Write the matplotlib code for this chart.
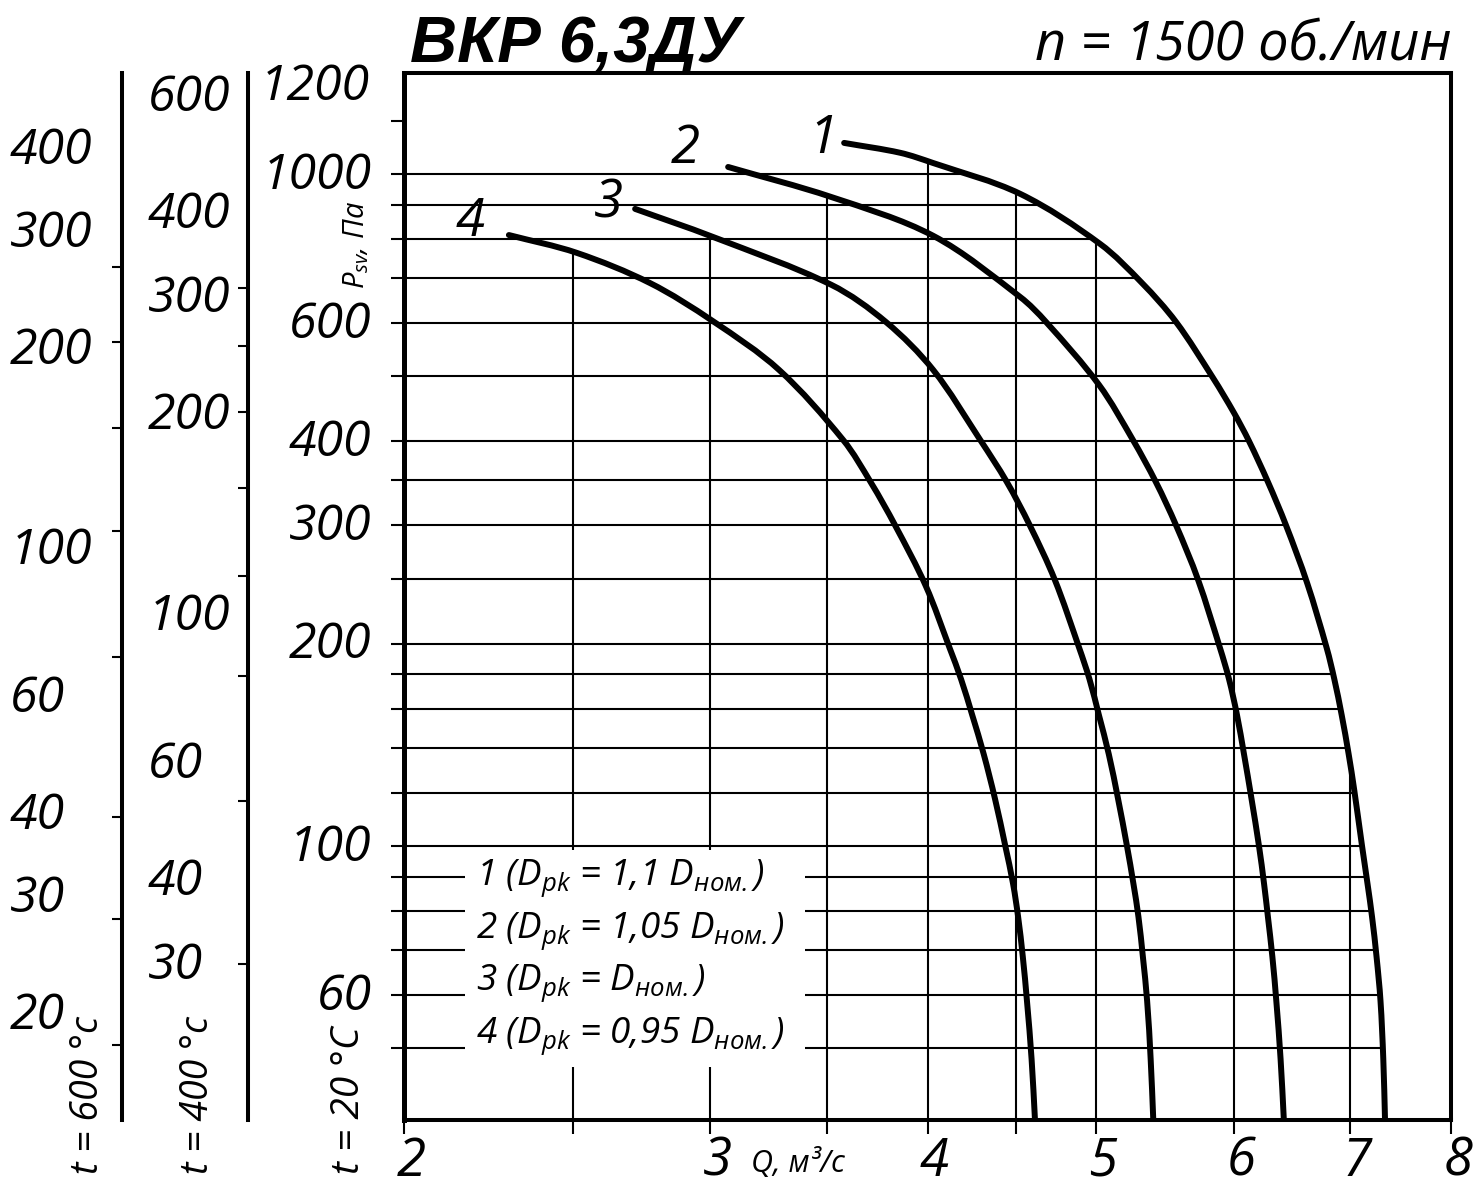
import numpy as np
import matplotlib
matplotlib.use("Agg")
import matplotlib.pyplot as plt
from matplotlib.ticker import FixedLocator, FixedFormatter, NullFormatter, NullLocator
from matplotlib.patches import Rectangle, PathPatch
from matplotlib.path import Path
from matplotlib.transforms import ScaledTranslation

# ---------------- data ----------------
q1 = [3.582, 3.858, 4.030, 4.522, 5.026, 5.314, 5.559, 5.838, 6.002, 6.122, 6.278, 6.430,
      6.613, 6.786, 6.855, 6.922, 6.986, 7.038, 7.111, 7.163, 7.206, 7.249, 7.287, 7.314, 7.331]
p1 = [1112, 1075, 1038, 934, 787, 688, 602, 497, 441, 400.5, 348, 300,
      246, 197, 177, 156.6, 137, 121.1, 100, 87.8, 78.4, 68.4, 58.8, 48.2, 39]

q2 = [3.072, 3.521, 4.030, 4.522, 4.680, 5.020, 5.250, 5.412, 5.559, 5.723, 5.892, 5.963,
      6.026, 6.082, 6.143, 6.204, 6.246, 6.278, 6.315, 6.348, 6.384, 6.412]
p2 = [1024, 924, 809, 656, 602, 485.3, 402, 348, 300, 249, 197, 177,
      156.6, 137, 117.5, 100, 87.8, 78.4, 68.4, 58.8, 48.2, 39]

q3 = [2.716, 3.010, 3.521, 3.786, 4.030, 4.289, 4.443, 4.580, 4.734, 4.890, 4.957, 5.019,
      5.085, 5.148, 5.209, 5.254, 5.289, 5.320, 5.350, 5.375, 5.394]
p3 = [887, 806, 684, 602, 511, 402, 348, 300, 249, 197, 177, 156.6,
      137, 117.5, 100, 87.8, 78.4, 68.4, 58.8, 48.2, 39]

q4 = [2.298, 2.514, 2.770, 3.010, 3.286, 3.577, 3.712, 3.832, 3.991, 4.119, 4.182, 4.244,
      4.309, 4.374, 4.434, 4.480, 4.510, 4.538, 4.563, 4.591, 4.612]
p4 = [811, 763, 688, 604, 511, 402, 347, 300, 243.7, 197, 177, 156.6,
      137, 117.5, 100, 87.8, 78.4, 68.4, 58.8, 48.2, 39]

curve_names = ["1", "2", "3", "4"]
legend_lines = [
    "1 (D$_{pk}$ = 1,1 D$_{ном.}$)",
    "2 (D$_{pk}$ = 1,05 D$_{ном.}$)",
    "3 (D$_{pk}$ = D$_{ном.}$)",
    "4 (D$_{pk}$ = 0,95 D$_{ном.}$)",
]

x_ticks = [2, 2.5, 3, 3.5, 4, 4.5, 5, 6, 7, 8]
x_grid = [2.5, 3, 3.5, 4, 4.5, 5, 6, 7]
y_grid = [1000, 900, 800, 700, 600, 500, 400, 350, 300, 250, 200, 180, 160, 140, 120,
          100, 90, 80, 70, 60, 50]
y_ticks = [1200] + y_grid
y_labeled = [1000, 600, 400, 300, 200, 100, 60]

t600_labels = [400, 300, 200, 100, 60, 40, 30, 20]
t600_marks = [262, 202, 150, 105, 68, 39, 27.4, 17.7]
t400_labels = [600, 400, 300, 200, 100, 60, 40, 30]
t400_marks = [305, 250, 199, 153, 113, 80, 52, 29.6]

# ---------------- style ----------------
FONT = ['Open Sans', 'DejaVu Sans']
plt.rcParams['font.family'] = FONT
plt.rcParams['font.style'] = 'italic'
plt.rcParams['mathtext.fontset'] = 'custom'
plt.rcParams['mathtext.rm'] = 'Open Sans:italic'
plt.rcParams['mathtext.it'] = 'Open Sans:italic'
plt.rcParams['mathtext.default'] = 'it'

W, H = 1483, 1189
fig = plt.figure(figsize=(W / 100, H / 100), dpi=100)
L, R, T, B = 404, 1451, 73, 1120


def box(l, r):
    return [l / W, 1 - B / H, (r - l) / W, (B - T) / H]


def px_shift(dx, dy):
    return ScaledTranslation(dx / 100, dy / 100, fig.dpi_scale_trans)


ax = fig.add_axes(box(L, R))
ax.set_xscale('log')
ax.set_yscale('log')
ax.set_xlim(2, 8)
ax.set_ylim(39.1, 1413)

ax.xaxis.set_major_locator(FixedLocator(x_ticks))
ax.xaxis.set_major_formatter(FixedFormatter([('%d' % v) if v == int(v) else '' for v in x_ticks]))
ax.xaxis.set_minor_locator(NullLocator())
ax.yaxis.set_major_locator(FixedLocator(y_ticks))
ax.yaxis.set_major_formatter(FixedFormatter([str(v) if v in y_labeled else '' for v in y_ticks]))
ax.yaxis.set_minor_locator(NullLocator())
ax.tick_params(axis='x', length=10, width=1.5, pad=1, labelsize=38, direction='out')
ax.tick_params(axis='y', length=9.4, width=1.5, pad=14, labelsize=36, direction='out')
for s in ['top', 'right', 'bottom']:
    ax.spines[s].set_linewidth(2.9)
ax.spines['left'].set_linewidth(3.6)
for lbl in ax.get_xticklabels():
    lbl.set_transform(lbl.get_transform() + px_shift(7, 0))
for lbl in ax.get_yticklabels():
    lbl.set_transform(lbl.get_transform() + px_shift(0, 4))

curves = [(np.array(q1), np.array(p1)), (np.array(q2), np.array(p2)),
          (np.array(q3), np.array(p3)), (np.array(q4), np.array(p4))]

ymin = ax.get_ylim()[0]
# horizontal grid lines: from the left edge to the outer curve
lq1, lp1 = np.log(curves[0][0]), np.log(curves[0][1])
for P in y_grid:
    if P > curves[0][1].max():
        continue
    qend = np.exp(np.interp(np.log(P), lp1[::-1], lq1[::-1]))
    ax.plot([2, qend], [P, P], color='black', lw=1.5, zorder=1, solid_capstyle='butt')
# vertical grid lines: from the bottom up to the highest curve
for Q in x_grid:
    tops = [np.exp(np.interp(np.log(Q), np.log(q), np.log(p)))
            for q, p in curves if q[0] <= Q <= q[-1]]
    top = max(tops) if tops else ax.get_ylim()[1]
    ax.plot([Q, Q], [ymin, top], color='black', lw=1.5, zorder=1, solid_capstyle='butt')

# white panel behind the legend text
ax.add_patch(Rectangle((0.0583, 0.0506), 0.325, 0.207, transform=ax.transAxes,
                       facecolor='white', edgecolor='none', zorder=2))


def smooth_path(q, p, sx=1739.0, sy=672.0):
    """Smooth Bezier path through the read points (chord-length tangents, log space)."""
    pts = np.column_stack([np.log10(q) * sx, np.log10(p) * sy])
    n = len(pts)
    d = np.linalg.norm(np.diff(pts, axis=0), axis=1)
    tang = np.zeros_like(pts)
    tang[0] = (pts[1] - pts[0]) / d[0]
    tang[-1] = (pts[-1] - pts[-2]) / d[-1]
    for i in range(1, n - 1):
        tang[i] = (pts[i + 1] - pts[i - 1]) / (d[i - 1] + d[i])
    verts = [pts[0]]
    codes = [Path.MOVETO]
    for i in range(n - 1):
        verts += [pts[i] + tang[i] * d[i] / 3, pts[i + 1] - tang[i + 1] * d[i] / 3, pts[i + 1]]
        codes += [Path.CURVE4] * 3
    verts = np.array(verts) / np.array([sx, sy])
    return Path(10 ** verts, codes)


label_offsets = [(-15, -7), (-31, 3), (-19, -6), (-28, -0.7)]
for (q, p), name, off in zip(curves, curve_names, label_offsets):
    ax.add_patch(PathPatch(smooth_path(q, p), facecolor='none', edgecolor='black',
                           lw=4.3, capstyle='round', joinstyle='round', zorder=3))
    ax.annotate(name, xy=(q[0], p[0]), xytext=off, textcoords='offset points',
                ha='center', va='baseline', fontsize=38)

# legend text
for s, yb in zip(legend_lines, [885, 938, 990, 1043]):
    fig.text(476 / W, 1 - yb / H, s, fontsize=26.5, ha='left', va='baseline')


# secondary temperature scales
def temp_axis(xpx, ylim, labels, marks, left_px):
    a = fig.add_axes(box(xpx, xpx + 0.2))
    a.set_yscale('log')
    a.set_ylim(*ylim)
    for s in ['top', 'right', 'bottom']:
        a.spines[s].set_visible(False)
    a.spines['left'].set_linewidth(2.9)
    a.patch.set_visible(False)
    a.xaxis.set_visible(False)
    a.yaxis.set_major_locator(FixedLocator(labels))
    a.yaxis.set_major_formatter(FixedFormatter([str(v) for v in labels]))
    a.yaxis.set_minor_locator(FixedLocator(marks))
    a.yaxis.set_minor_formatter(NullFormatter())
    a.tick_params(axis='y', which='major', length=0, pad=(xpx - left_px) * 0.72, labelsize=36)
    a.tick_params(axis='y', which='minor', length=7, width=1.5, direction='out')
    for lbl in a.get_yticklabels():
        lbl.set_horizontalalignment('left')
    return a


temp_axis(122, (13.67, 513), t600_labels, t600_marks, 10)
temp_axis(248, (17.26, 641), t400_labels, t400_marks, 148)

# texts
fig.text(410 / W, 1 - 62 / H, "ВКР 6,3ДУ", fontsize=47, fontweight='bold', style='italic',
         family=['Liberation Sans', 'DejaVu Sans'], ha='left', va='baseline')
fig.text(1452 / W, 1 - 60 / H, "n = 1500 об./мин", fontsize=39, ha='right', va='baseline')
fig.text(370 / W, 1 - 100 / H, "1200", fontsize=36, ha='right', va='baseline')
fig.text(356 / W, 1 - 245 / H, "P$_{sv}$, Па", rotation=90, fontsize=21,
         ha='center', va='center')
fig.text(751 / W, 1 - 1172 / H, "Q, м³/с", fontsize=22, ha='left', va='baseline')
fig.text(88 / W, 1 - 1174 / H, "t = 600 °c", rotation=90, fontsize=27, ha='center', va='bottom')
fig.text(198 / W, 1 - 1174 / H, "t = 400 °c", rotation=90, fontsize=27, ha='center', va='bottom')
fig.text(349 / W, 1 - 1174 / H, "t = 20 °C", rotation=90, fontsize=28, ha='center', va='bottom')

fig.savefig("out.png", dpi=100)
